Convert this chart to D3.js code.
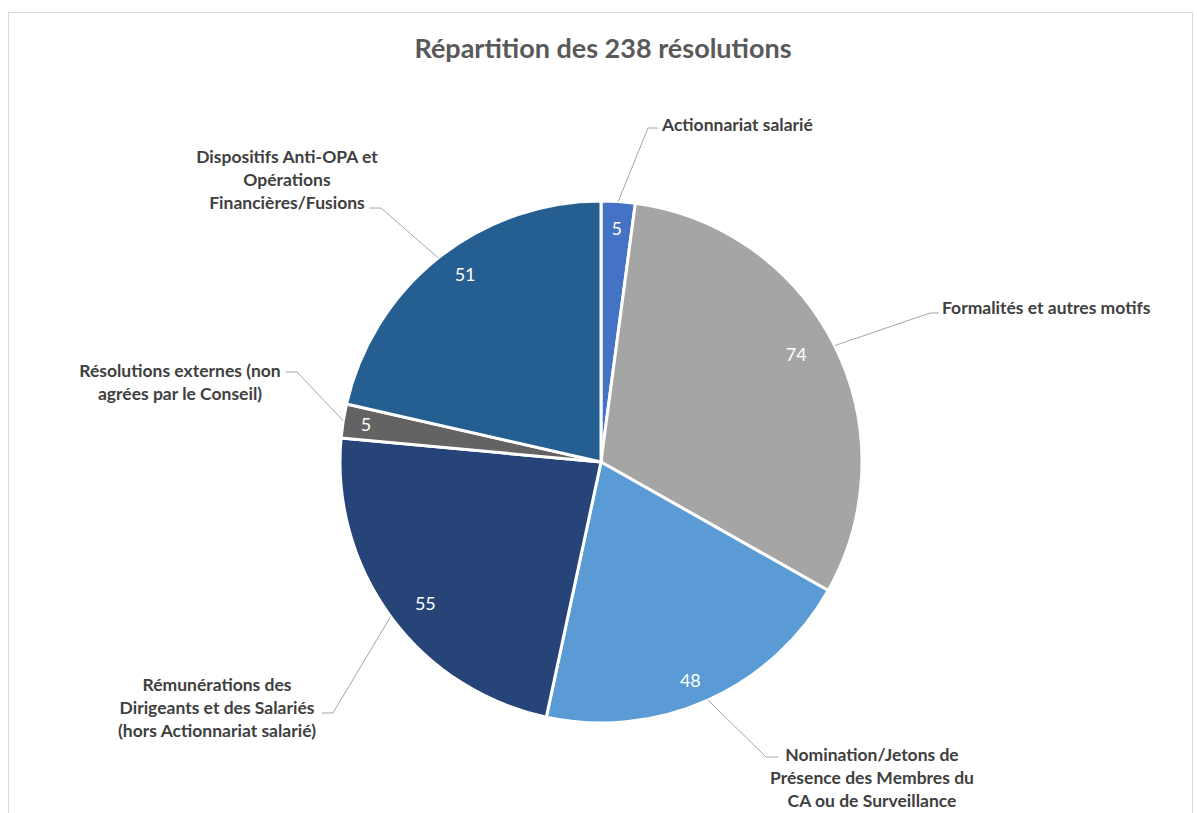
<!DOCTYPE html>
<html>
<head>
<meta charset="utf-8" />
<style>
    body { margin: 0; background: #fff; }
    text { font-family: Lato, "Open Sans", sans-serif; }
    .cat { font-weight: bold; font-size: 17.5px; fill: #404040; }
    .val { font-size: 18px; fill: #fff; }
    .leader { fill: none; stroke: #a6a6a6; stroke-width: 1px; }
</style>
</head>
<body>
<svg width="1197" height="813"></svg>
<script src="https://cdnjs.cloudflare.com/ajax/libs/d3/7.8.5/d3.min.js"></script>
<script>
// data, clockwise from 12 o'clock
var categories = [
    "Actionnariat salarié",
    "Formalités et autres motifs",
    "Nomination/Jetons de Présence des Membres du CA ou de Surveillance",
    "Rémunérations des Dirigeants et des Salariés (hors Actionnariat salarié)",
    "Résolutions externes (non agrées par le Conseil)",
    "Dispositifs Anti-OPA et Opérations Financières/Fusions"
];
var values = [5, 74, 48, 55, 5, 51];
var colors = ["#4472C4", "#A5A5A5", "#5B9BD5", "#264478", "#636363", "#255E91"];
var labelLines = [
    ["Actionnariat salarié"],
    ["Formalités et autres motifs"],
    ["Nomination/Jetons de", "Présence des Membres du", "CA ou de Surveillance"],
    ["Rémunérations des", "Dirigeants et des Salariés", "(hors Actionnariat salarié)"],
    ["Résolutions externes (non", "agrées par le Conseil)"],
    ["Dispositifs Anti-OPA et", "Opérations", "Financières/Fusions"]
];

// where Excel put the category labels: text x, first baseline, anchor, elbow of leader, end of leader
var labelLayout = [
    {x: 662, y: 131, anchor: "start",  elbow: [648, 128], end: [658, 128]},
    {x: 942, y: 314, anchor: "start",  elbow: [930, 313], end: [939, 313]},
    {x: 872, y: 761, anchor: "middle", elbow: [766, 757], end: [778, 757]},
    {x: 217, y: 691, anchor: "middle", elbow: [333, 713], end: [322, 713]},
    {x: 180, y: 377, anchor: "middle", elbow: [297, 372], end: [286, 372]},
    {x: 287, y: 163, anchor: "middle", elbow: [381, 208], end: [369, 208]}
];

var svg = d3.select("svg");
var cx = 601, cy = 462, R = 261, lineH = 23;

svg.append("rect")
    .attr("x", 8.5).attr("y", 12.5)
    .attr("width", 1184).attr("height", 830)
    .attr("fill", "none")
    .attr("stroke", "#d9d9d9");

svg.append("text")
    .attr("x", 603).attr("y", 58)
    .attr("text-anchor", "middle")
    .style("font-size", "27px")
    .style("font-weight", "bold")
    .style("fill", "#595959")
    .text("Répartition des 238 résolutions");

var pie = d3.pie().sort(null).value(function (d) { return d; });
var arcs = pie(values);
var arc = d3.arc().innerRadius(0).outerRadius(R);

var g = svg.append("g").attr("transform", "translate(" + cx + "," + cy + ")");

g.selectAll("path")
    .data(arcs)
    .enter().append("path")
    .attr("d", arc)
    .attr("fill", function (d, i) { return colors[i]; })
    .attr("stroke", "#fff")
    .attr("stroke-width", 3)
    .attr("stroke-linejoin", "round");

function mid(d) { return (d.startAngle + d.endAngle) / 2; }

// value labels, placed like Excel's inside labels (a bit flatter horizontally)
g.selectAll("text.val")
    .data(arcs)
    .enter().append("text")
    .attr("class", "val")
    .attr("text-anchor", "middle")
    .attr("dy", "0.35em")
    .attr("x", function (d) {
        var rx = d.value < 10 ? 238 : 218;
        return rx * Math.sin(mid(d));
    })
    .attr("y", function (d) {
        var ry = d.value < 10 ? 234 : 240;
        return -ry * Math.cos(mid(d));
    })
    .text(function (d) { return d.value; });

// leader lines
svg.selectAll("polyline.leader")
    .data(arcs)
    .enter().append("polyline")
    .attr("class", "leader")
    .attr("points", function (d, i) {
        var a = mid(d);
        var p0 = [cx + R * Math.sin(a), cy - R * Math.cos(a)];
        var L = labelLayout[i];
        return [p0, L.elbow, L.end].map(function (p) { return p.join(","); }).join(" ");
    });

// category labels
svg.selectAll("text.cat")
    .data(labelLines)
    .enter().append("text")
    .attr("class", "cat")
    .attr("text-anchor", function (d, i) { return labelLayout[i].anchor; })
    .each(function (lines, i) {
        var L = labelLayout[i];
        var t = d3.select(this);
        lines.forEach(function (s, k) {
            t.append("tspan")
                .attr("x", L.x)
                .attr("y", L.y + k * lineH)
                .text(s);
        });
    });
</script>
</body>
</html>
